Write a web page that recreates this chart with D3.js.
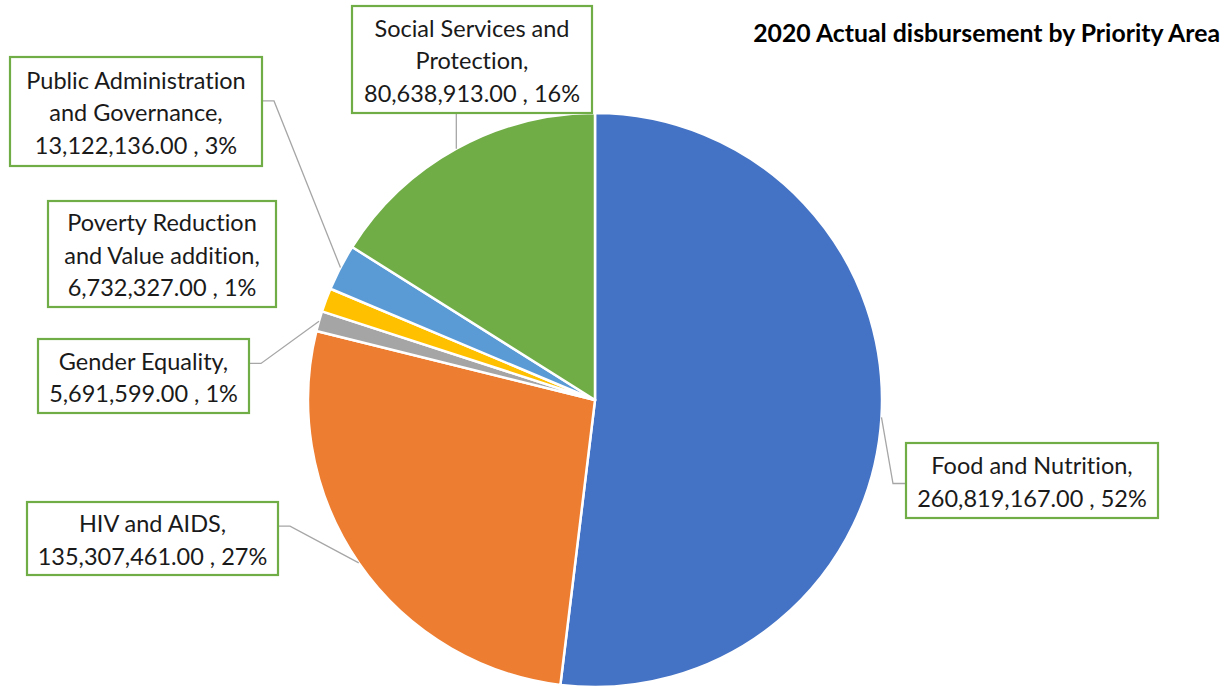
<!DOCTYPE html>
<html><head><meta charset="utf-8">
<script src="https://cdn.jsdelivr.net/npm/d3@7"></script>
<style>body{margin:0;background:#fff}svg{display:block}text{font-variant-ligatures:none;font-feature-settings:"liga" 0}</style>
</head><body>
<svg id="chart" width="1231" height="686"></svg>
<script>
const title = "2020 Actual disbursement by Priority Area";
const categories = ["Food and Nutrition","HIV and AIDS","Gender Equality","Poverty Reduction and Value addition","Public Administration and Governance","Social Services and Protection"];
const values = [260819167, 135307461, 5691599, 6732327, 13122136, 80638913];
const colors = ["#4472C4","#ED7D31","#A5A5A5","#FFC000","#5B9BD5","#70AD47"];
// label text lines (as shown in the chart)
const labelLines = [
  ["Food and Nutrition,"],
  ["HIV and AIDS,"],
  ["Gender Equality,"],
  ["Poverty Reduction","and Value addition,"],
  ["Public Administration","and Governance,"],
  ["Social Services and","Protection,"]
];
// label box layout: x, y, w, h, leader side
const boxes = [
  {x:906,y:443,w:252,h:75,side:"left"},
  {x:27,y:502,w:251,h:73,side:"right"},
  {x:38,y:339,w:211,h:74,side:"right"},
  {x:48,y:201,w:228,h:106,side:"none"},
  {x:10,y:57,w:252,h:109,side:"right"},
  {x:352,y:6,w:240,h:107,side:"bottom"}
];

const svg = d3.select("#chart");
const cx = 595, cy = 400, r = 287;
const total = d3.sum(values);
const fmt = d3.format(",.2f");
const pct = d3.format(".0%");

const pie = d3.pie().sort(null).value(d => d)(values);
const arc = d3.arc().innerRadius(0).outerRadius(r);
const g = svg.append("g").attr("transform", `translate(${cx},${cy})`);

// leaders
pie.forEach((p, i) => {
  const b = boxes[i];
  if (b.side === "none") return;
  const a = (p.startAngle + p.endAngle) / 2;
  const ex = cx + r * Math.sin(a), ey = cy - r * Math.cos(a);
  let pts;
  if (b.side === "right") { const y = b.y + b.h * 0.33 + (b.h>100?8:0); pts = [[b.x + b.w, y],[b.x + b.w + 12, y],[ex, ey]]; }
  else if (b.side === "left") { const y = b.y + b.h/2 + 3; pts = [[b.x, y],[b.x - 13, y],[ex, ey]]; }
  else { pts = [[ex, b.y + b.h],[ex, ey]]; }
  svg.append("path").attr("d", d3.line()(pts)).attr("fill","none").attr("stroke","#a6a6a6").attr("stroke-width",1.3);
});

g.selectAll("path.slice").data(pie).join("path").attr("class","slice")
  .attr("d", arc).attr("fill", (d,i) => colors[i]).attr("stroke","#fff").attr("stroke-width",2.5).attr("stroke-linejoin","round");

// label boxes
pie.forEach((p, i) => {
  const b = boxes[i];
  const lines = labelLines[i].concat([fmt(values[i]) + " , " + pct(values[i]/total)]);
  const lg = svg.append("g");
  lg.append("rect").attr("x", b.x).attr("y", b.y).attr("width", b.w).attr("height", b.h)
    .attr("fill","#fff").attr("stroke","#70AD47").attr("stroke-width",2.2);
  const lh = 32.5;
  const y0 = b.y + b.h/2 - (lines.length - 1) * lh / 2 + 1.5;
  lines.forEach((t, k) => {
    lg.append("text").attr("x", b.x + b.w/2).attr("y", y0 + k*lh).attr("dy","0.36em")
      .attr("text-anchor","middle").attr("font-family","Lato, 'Open Sans', sans-serif").attr("font-size",23.5)
      .attr("fill","#1a1a1a").text(t);
  });
});

svg.append("text").attr("x", 1220).attr("y", 33).attr("dy","0.36em").attr("text-anchor","end")
  .attr("font-family","Lato, sans-serif").attr("font-weight","bold").attr("font-size",24.8).attr("fill","#000").text(title);
</script>
</body></html>
